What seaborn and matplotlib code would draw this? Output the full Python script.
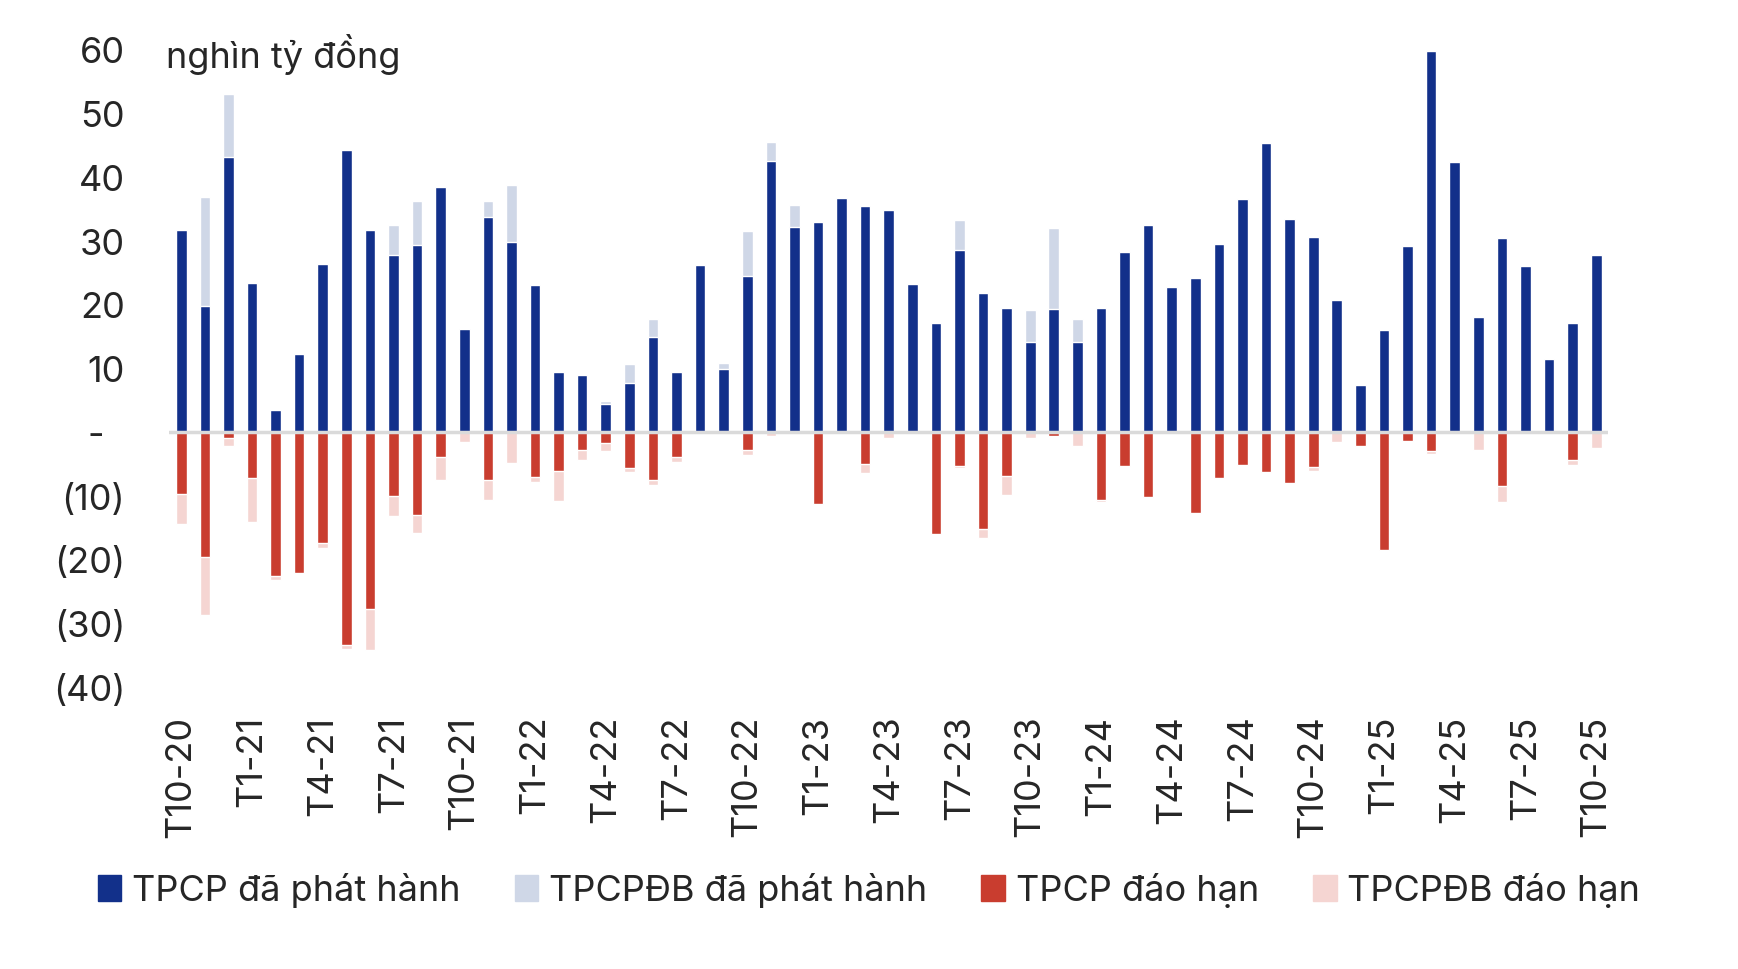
import matplotlib
matplotlib.use("Agg")
import matplotlib.pyplot as plt
import pandas as pd
import seaborn as sns
from matplotlib.patches import Patch

sns.set_style("white")
plt.rcParams["font.family"] = ["Inter", "DejaVu Sans"]

months = [
    "T10-20", "T11-20", "T12-20",
    "T1-21", "T2-21", "T3-21", "T4-21", "T5-21", "T6-21",
    "T7-21", "T8-21", "T9-21", "T10-21", "T11-21", "T12-21",
    "T1-22", "T2-22", "T3-22", "T4-22", "T5-22", "T6-22",
    "T7-22", "T8-22", "T9-22", "T10-22", "T11-22", "T12-22",
    "T1-23", "T2-23", "T3-23", "T4-23", "T5-23", "T6-23",
    "T7-23", "T8-23", "T9-23", "T10-23", "T11-23", "T12-23",
    "T1-24", "T2-24", "T3-24", "T4-24", "T5-24", "T6-24",
    "T7-24", "T8-24", "T9-24", "T10-24", "T11-24", "T12-24",
    "T1-25", "T2-25", "T3-25", "T4-25", "T5-25", "T6-25",
    "T7-25", "T8-25", "T9-25", "T10-25",
]

# nghin ty dong
tpcp_issued = [
    31.6, 19.7, 43.2, 23.4, 3.5, 12.2, 26.3, 44.2, 31.7, 27.7,
    29.3, 38.4, 16.2, 33.7, 29.8, 23.1, 9.4, 8.9, 4.3, 7.6,
    14.9, 9.4, 26.2, 9.9, 24.4, 42.5, 32.1, 32.9, 36.7, 35.5,
    34.8, 23.2, 17.0, 28.6, 21.8, 19.4, 14.1, 19.3, 14.1, 19.5,
    28.2, 32.5, 22.8, 24.1, 29.5, 36.6, 45.3, 33.4, 30.6, 20.7,
    7.3, 15.9, 29.1, 59.8, 42.4, 18.0, 30.4, 26.0, 11.5, 17.0,
    27.8,
]
tpcpdb_issued = [
    0, 17.1, 9.8, 0, 0, 0, 0, 0, 0, 4.8,
    6.9, 0, 0, 2.5, 8.9, 0, 0, 0, 0.6, 3.0,
    2.8, 0, 0, 0.9, 7.1, 2.9, 3.5, 0, 0, 0,
    0, 0, 0, 4.7, 0, 0, 5.0, 12.7, 3.6, 0,
    0, 0, 0, 0, 0, 0, 0, 0, 0, 0,
    0, 0, 0, 0, 0, 0, 0, 0, 0, 0,
    0,
]
tpcp_maturity = [
    -9.8, -19.7, -0.9, -7.3, -22.6, -22.1, -17.5, -33.4, -27.8, -10.0,
    -13.0, -4.0, 0, -7.5, 0, -7.1, -6.1, -2.9, -1.7, -5.7,
    -7.5, -3.9, 0, 0, -2.8, 0, 0, -11.3, 0, -5.1,
    0, 0, -16.1, -5.3, -15.2, -7.0, 0, -0.6, 0, -10.7,
    -5.3, -10.3, 0, -12.8, -7.2, -5.2, -6.3, -8.0, -5.5, 0,
    -2.2, -18.6, -1.5, -3.0, 0, 0, -8.5, 0, 0, -4.4,
    0,
]
tpcpdb_maturity = [
    -4.6, -9.0, -1.4, -6.8, -0.7, 0, -0.7, -0.7, -6.5, -3.2,
    -2.9, -3.6, -1.6, -3.2, -4.9, -0.8, -4.8, -1.6, -1.3, -0.6,
    -0.8, -0.9, 0, 0, -0.8, -0.7, 0, 0, 0, -1.3,
    -1.0, 0, 0, -0.3, -1.4, -2.9, -0.9, 0, -2.3, -0.3,
    0, 0, 0, 0, 0, 0, 0, 0, -0.7, -1.6,
    0, 0, 0, -0.5, 0, -2.9, -2.5, 0, 0, -0.8,
    -2.5,
]

series_names = ["TPCP đã phát hành", "TPCPĐB đã phát hành", "TPCP đáo hạn", "TPCPĐB đáo hạn"]
y_ticks = [-40, -30, -20, -10, 0, 10, 20, 30, 40, 50, 60]
y_tick_labels = ["(40)", "(30)", "(20)", "(10)", "-  ", "10", "20", "30", "40", "50", "60"]

DARK_BLUE = "#12308A"
LIGHT_BLUE = "#CFD7E7"
RED = "#C93D2F"
PINK = "#F5D5D2"
FS = 26

df = pd.DataFrame({
    "month": months,
    "tpcp_issued": tpcp_issued,
    "tpcpdb_issued": tpcpdb_issued,
    "tpcp_maturity": tpcp_maturity,
    "tpcpdb_maturity": tpcpdb_maturity,
})
# stacked look: draw the totals first, then the TPCP part over them
df["issued_total"] = df["tpcp_issued"] + df["tpcpdb_issued"]
df["maturity_total"] = df["tpcp_maturity"] + df["tpcpdb_maturity"]

fig = plt.figure(figsize=(17.38, 9.70), dpi=100)
ax = fig.add_axes([0.0975, 0.291, 0.8277, 0.657])

layers = [
    ("issued_total", LIGHT_BLUE),
    ("tpcp_issued", DARK_BLUE),
    ("maturity_total", PINK),
    ("tpcp_maturity", RED),
]
for col, color in layers:
    sns.barplot(
        data=df, x="month", y=col, order=months, color=color,
        saturation=1, width=0.45, errorbar=None, ax=ax,
    )

ax.axhline(0, color="#DADADA", lw=2.5, zorder=5)

ax.set_xlim(-0.5, len(months) - 0.5)
ax.set_ylim(-40, 60)
ax.set_xlabel("")
ax.set_ylabel("")
for s in ax.spines.values():
    s.set_visible(False)

ax.set_yticks(y_ticks)
ax.set_yticklabels(y_tick_labels, fontsize=FS)
ax.set_xticks(range(0, len(months), 3))
ax.set_xticklabels(months[::3], rotation=90, fontsize=FS)
ax.tick_params(axis="y", length=0, pad=32)
ax.tick_params(axis="x", length=0, pad=20)

fig.text(0.0955, 1 - 68 / 970, "nghìn tỷ đồng", fontsize=FS, va="baseline", ha="left")

handles = [Patch(color=c) for c in [DARK_BLUE, LIGHT_BLUE, RED, PINK]]
fig.legend(
    handles, series_names, loc="center", bbox_to_anchor=(0.5, 1 - 891 / 970),
    ncol=4, frameon=False, fontsize=FS, handlelength=0.65, handleheight=0.75,
    handletextpad=0.3, columnspacing=1.5,
)

fig.savefig("out.png", dpi=100)
